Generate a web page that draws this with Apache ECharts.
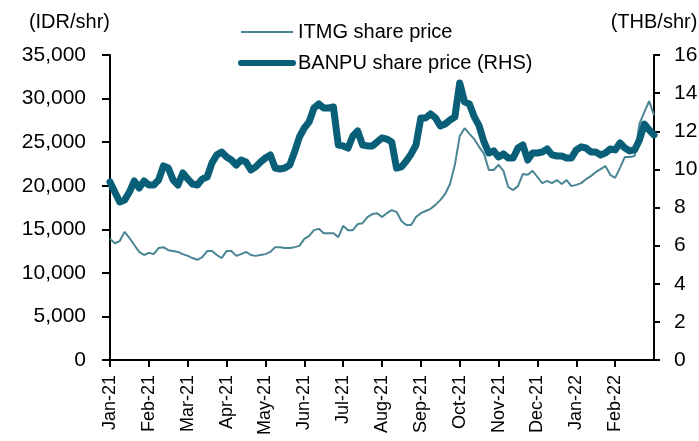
<!DOCTYPE html>
<html>
<head>
<meta charset="utf-8">
<script src="https://cdn.jsdelivr.net/npm/echarts@6/dist/echarts.min.js"></script>
<style>
  html, body { margin: 0; padding: 0; background: #fff; }
  #chart { width: 699px; height: 441px; }
</style>
</head>
<body>
<div id="chart"></div>
<script>
  var months = ['Jan-21', 'Feb-21', 'Mar-21', 'Apr-21', 'May-21', 'Jun-21', 'Jul-21',
    'Aug-21', 'Sep-21', 'Oct-21', 'Nov-21', 'Dec-21', 'Jan-22', 'Feb-22'];
  var PER_MONTH = 8;

  // ITMG share price, IDR/shr (left axis)
  var itmg = [
    13900, 13400, 13650, 14700, 14000, 13200, 12400, 12050,
    12300, 12150, 12850, 12950, 12600, 12500, 12400, 12150,
    11950, 11700, 11500, 11800, 12500, 12500, 12050, 11700,
    12500, 12500, 11950, 12150, 12400, 12050, 11950, 12050,
    12150, 12400, 12950, 12950, 12850, 12850, 12950, 13100,
    13900, 14250, 14900, 15050, 14550, 14550, 14550, 14100,
    15400, 14900, 14900, 15600, 15700, 16400, 16750, 16850,
    16400, 16850, 17200, 17000, 15950, 15500, 15500, 16400,
    16850, 17100, 17350, 17800, 18350, 19050, 20200, 22400,
    25700, 26600, 25950, 25350, 24450, 23650, 21800, 21800,
    22400, 21700, 19850, 19500, 19950, 21350, 21250, 21700,
    21000, 20300, 20550, 20300, 20650, 20200, 20650, 19950,
    20100, 20300, 20750, 21100, 21550, 21900, 22250, 21250,
    20900, 22050, 23300, 23300, 23400, 27100, 28450, 29700,
    28100
  ];

  // BANPU share price, THB/shr (right axis)
  var banpu = [
    9.34, 8.81, 8.29, 8.39, 8.81, 9.39, 9.02, 9.39,
    9.18, 9.18, 9.44, 10.18, 10.07, 9.44, 9.18, 9.81,
    9.50, 9.23, 9.18, 9.50, 9.60, 10.34, 10.76, 10.91,
    10.65, 10.49, 10.23, 10.49, 10.39, 9.97, 10.13, 10.39,
    10.60, 10.76, 10.07, 10.02, 10.07, 10.23, 10.91, 11.70,
    12.17, 12.49, 13.22, 13.43, 13.22, 13.22, 13.27, 11.28,
    11.23, 11.12, 11.75, 12.01, 11.28, 11.23, 11.23, 11.44,
    11.65, 11.59, 11.44, 10.07, 10.13, 10.44, 10.81, 11.28,
    12.70, 12.70, 12.91, 12.70, 12.28, 12.38, 12.59, 12.75,
    14.53, 13.54, 13.43, 12.75, 12.28, 11.44, 10.86, 10.97,
    10.65, 10.81, 10.60, 10.60, 11.12, 11.28, 10.49, 10.86,
    10.86, 10.91, 11.07, 10.76, 10.70, 10.70, 10.60, 10.60,
    11.02, 11.18, 11.12, 10.91, 10.91, 10.76, 10.86, 11.07,
    11.02, 11.39, 11.12, 10.97, 11.02, 11.54, 12.38, 12.07,
    11.80
  ];

  // axis ticks
  var leftTicks = { min: 0, max: 35000, interval: 5000 };
  var rightTicks = { min: 0, max: 16, interval: 2 };

  // one category per sample point, label only on month starts
  var cats = [];
  months.forEach(function (m) {
    for (var k = 0; k < PER_MONTH; k++) cats.push(k === 0 ? m : m + '#' + k);
  });
  cats.push('end');

  var isMonthStart = function (i) { return i % PER_MONTH === 0 && i < months.length * PER_MONTH; };

  var FONT = 'Liberation Sans, Arial, sans-serif';
  var ITMG_COLOR = '#4a8594';
  var BANPU_COLOR = '#0a5f78';

  var chart = echarts.init(document.getElementById('chart'), null, { renderer: 'canvas' });

  var option = {
    animation: false,
    backgroundColor: '#fff',
    textStyle: { fontFamily: FONT, color: '#000' },
    grid: { left: 110, right: 45, top: 55, bottom: 81, containLabel: false, outerBoundsMode: 'none' },
    legend: {
      orient: 'vertical',
      left: 233,
      top: 17,
      itemWidth: 52,
      itemHeight: 22,
      itemGap: 11,
      textStyle: { fontFamily: FONT, fontSize: 20, color: '#000' },
      itemStyle: { opacity: 0 },
      data: [
        { name: 'ITMG share price', itemStyle: { opacity: 0 }, lineStyle: { width: 2 } },
        { name: 'BANPU share price (RHS)', itemStyle: { opacity: 0 }, lineStyle: { width: 6, cap: 'round' } }
      ]
    },
    xAxis: {
      type: 'category',
      data: cats,
      boundaryGap: false,
      axisLine: { lineStyle: { color: '#000', width: 2 } },
      axisTick: {
        interval: function (i) { return isMonthStart(i); },
        length: 7,
        lineStyle: { color: '#000', width: 2 }
      },
      axisLabel: {
        interval: function (i) { return isMonthStart(i); },
        rotate: 90,
        margin: 15,
        fontSize: 18,
        fontFamily: FONT,
        color: '#000'
      },
      splitLine: { show: false }
    },
    yAxis: [
      {
        type: 'value',
        position: 'left',
        min: leftTicks.min,
        max: leftTicks.max,
        interval: leftTicks.interval,
        name: '(IDR/shr)',
        nameLocation: 'end',
        nameGap: 33,
        nameTextStyle: { fontFamily: FONT, fontSize: 20, color: '#000', align: 'right', verticalAlign: 'middle' },
        axisLine: { show: true, lineStyle: { color: '#000', width: 2 } },
        axisTick: { show: true, length: 8, lineStyle: { color: '#000', width: 2 } },
        axisLabel: {
          margin: 24,
          fontSize: 21,
          fontFamily: FONT,
          color: '#000',
          formatter: function (v) { return v.toLocaleString('en-US'); }
        },
        splitLine: { show: false }
      },
      {
        type: 'value',
        position: 'right',
        min: rightTicks.min,
        max: rightTicks.max,
        interval: rightTicks.interval,
        name: '(THB/shr)',
        nameLocation: 'end',
        nameGap: 33,
        nameTextStyle: { fontFamily: FONT, fontSize: 20, color: '#000', align: 'center', verticalAlign: 'middle' },
        axisLine: { show: true, lineStyle: { color: '#000', width: 2 } },
        axisTick: { show: true, length: 6, lineStyle: { color: '#000', width: 2 } },
        axisLabel: { margin: 20, fontSize: 21, fontFamily: FONT, color: '#000' },
        splitLine: { show: false }
      }
    ],
    series: [
      {
        name: 'ITMG share price',
        type: 'line',
        yAxisIndex: 0,
        data: itmg,
        symbol: 'none',
        color: ITMG_COLOR,
        lineStyle: { width: 2, color: ITMG_COLOR },
        z: 2
      },
      {
        name: 'BANPU share price (RHS)',
        type: 'line',
        yAxisIndex: 1,
        data: banpu,
        symbol: 'none',
        color: BANPU_COLOR,
        lineStyle: { width: 7, color: BANPU_COLOR, cap: 'round', join: 'round' },
        z: 3
      }
    ]
  };

  chart.setOption(option);
</script>
</body>
</html>
